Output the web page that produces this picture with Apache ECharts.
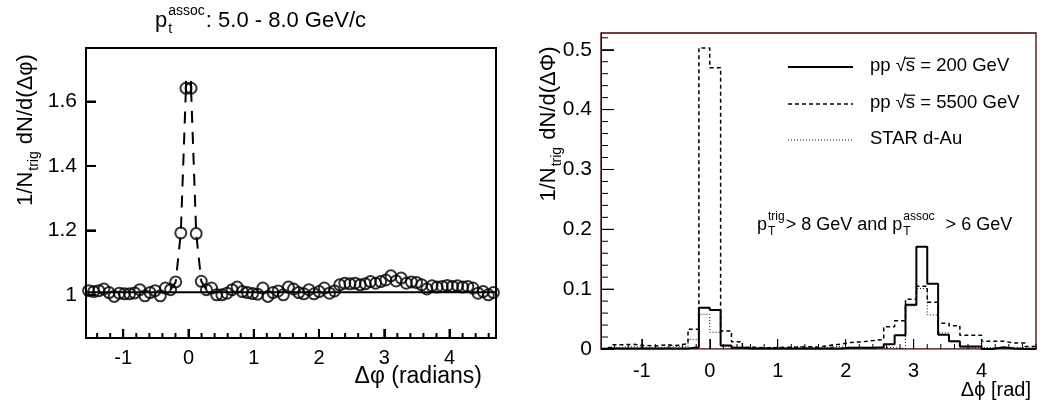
<!DOCTYPE html>
<html>
<head>
<meta charset="utf-8">
<script src="https://cdn.jsdelivr.net/npm/echarts@6/dist/echarts.min.js"></script>
<style>
html, body { margin: 0; padding: 0; background: #fff; }
#main { width: 1049px; height: 406px; }
</style>
</head>
<body>
<div id="main"></div>
<script>
// ==========================================
// 1. 数据
// ==========================================
// 左图: 80 个 Δφ bin 的中心
const leftX = [
  -1.531, -1.453, -1.374, -1.296, -1.217, -1.139, -1.060, -0.982, -0.903, -0.825,
  -0.746, -0.668, -0.589, -0.511, -0.432, -0.353, -0.275, -0.196, -0.118, -0.039,
   0.039,  0.118,  0.196,  0.275,  0.353,  0.432,  0.511,  0.589,  0.668,  0.746,
   0.825,  0.903,  0.982,  1.060,  1.139,  1.217,  1.296,  1.374,  1.453,  1.531,
   1.610,  1.689,  1.767,  1.846,  1.924,  2.003,  2.081,  2.160,  2.238,  2.317,
   2.395,  2.474,  2.553,  2.631,  2.710,  2.788,  2.867,  2.945,  3.024,  3.102,
   3.181,  3.259,  3.338,  3.416,  3.495,  3.574,  3.652,  3.731,  3.809,  3.888,
   3.966,  4.045,  4.123,  4.202,  4.280,  4.359,  4.437,  4.516,  4.595,  4.673
];
const leftY = [
  1.013, 1.010, 1.013, 1.018, 1.007, 0.995, 1.005, 1.003, 1.003, 1.006,
  1.016, 0.997, 1.007, 1.013, 0.997, 1.021, 1.016, 1.040, 1.192, 1.641,
  1.641, 1.190, 1.042, 1.016, 1.021, 1.000, 1.000, 1.005, 1.016, 1.024,
  1.010, 1.007, 1.004, 1.002, 1.021, 0.995, 1.007, 1.012, 1.000, 1.024,
  1.018, 1.007, 1.003, 1.016, 1.003, 1.010, 1.021, 1.005, 1.012, 1.031,
  1.036, 1.034, 1.036, 1.031, 1.034, 1.041, 1.036, 1.041, 1.046, 1.059,
  1.043, 1.052, 1.036, 1.040, 1.038, 1.031, 1.018, 1.028, 1.024, 1.026,
  1.029, 1.026, 1.028, 1.024, 1.026, 1.021, 1.005, 1.010, 1.000, 1.007
];
// 近端峰的虚线拟合
const fitX = [-0.275, -0.196, -0.118, -0.039, 0.039, 0.118, 0.196, 0.275];
const fitY = [1.016, 1.040, 1.192, 1.641, 1.641, 1.190, 1.042, 1.016];
// 本底水平线
const baseX = [-1.5708, 4.7124];
const baseY = [1.008, 1.008];
// 峰值点误差棒
const errX = [-0.039, 0.039];
const errLo = [1.622, 1.622];
const errHi = [1.664, 1.664];

// 右图: 40 个 bin 的边界
const binEdges = [
  -1.60, -1.44, -1.28, -1.12, -0.96, -0.80, -0.64, -0.48, -0.32, -0.16,
   0.00,  0.16,  0.32,  0.48,  0.64,  0.80,  0.96,  1.12,  1.28,  1.44,
   1.60,  1.76,  1.92,  2.08,  2.24,  2.40,  2.56,  2.72,  2.88,  3.04,
   3.20,  3.36,  3.52,  3.68,  3.84,  4.00,  4.16,  4.32,  4.48,  4.64, 4.80
];
const pp200 = [
  0.001, 0.001, 0.001, 0.001, 0.001, 0.001, 0.001, 0.001, 0.003, 0.069,
  0.065, 0.006, 0.002, 0.001, 0.001, 0.001, 0.001, 0.001, 0.001, 0.001,
  0.001, 0.001, 0.002, 0.002, 0.002, 0.003, 0.008, 0.023, 0.074, 0.171,
  0.109, 0.024, 0.013, 0.004, 0.004, 0.000, 0.003, 0.001, 0.000, 0.000
];
const pp5500 = [
  0.003, 0.007, 0.008, 0.006, 0.005, 0.007, 0.006, 0.009, 0.033, 0.503,
  0.470, 0.030, 0.012, 0.003, 0.002, 0.002, 0.003, 0.003, 0.004, 0.003,
  0.006, 0.008, 0.011, 0.012, 0.014, 0.016, 0.037, 0.047, 0.083, 0.105,
  0.078, 0.043, 0.039, 0.023, 0.023, 0.013, 0.013, 0.010, 0.010, 0.004
];
const starDAu = [
  0.002, 0.003, 0.004, 0.003, 0.002, 0.003, 0.004, 0.004, 0.016, 0.058,
  0.028, 0.004, 0.003, 0.002, 0.002, 0.003, 0.002, 0.004, 0.003, 0.002,
  0.003, 0.004, 0.003, 0.003, 0.002, 0.003, 0.002, 0.001, 0.072, 0.101,
  0.057, 0.027, 0.012, 0.002, 0.003, 0.002, 0.002, 0.003, 0.002, 0.002
];

const xTicks = [-1, 0, 1, 2, 3, 4];
const leftYTicks = [1, 1.2, 1.4, 1.6];
const rightYTicks = [0, 0.1, 0.2, 0.3, 0.4, 0.5];

// 坐标范围
const L_XMIN = -1.5708, L_XMAX = 4.7124, L_YMIN = 0.866, L_YMAX = 1.766;
const R_XMIN = -1.6, R_XMAX = 4.8, R_YMIN = 0, R_YMAX = 0.528;

// ==========================================
// 2. 文字辅助 (上下标)
// ==========================================
const FONT = '"Liberation Sans", Arial, sans-serif';
const meas = document.createElement('canvas').getContext('2d');
function tw(s, size) {
  meas.font = size + 'px ' + FONT;
  return meas.measureText(s).width;
}
function txt(s, x, y, size, align) {
  return {
    type: 'text', x: x, y: y,
    style: {
      text: s, font: size + 'px ' + FONT, fill: '#000',
      align: align || 'left', textAlign: align || 'left',
      verticalAlign: 'middle', textVerticalAlign: 'middle'
    }
  };
}
// parts: 字符串 或 {sup, sub}; shift 把整行平移
function formula(parts, size, shift) {
  const kids = [];
  const small = Math.round(size * 0.64);
  let x = shift || 0;
  parts.forEach(p => {
    if (typeof p === 'string') {
      kids.push(txt(p, x, 0, size));
      x += tw(p, size);
    } else {
      let w = 0;
      if (p.sup) { kids.push(txt(p.sup, x + 1, -size * 0.45, small)); w = Math.max(w, tw(p.sup, small)); }
      if (p.sub) { kids.push(txt(p.sub, x + 1, size * 0.38, small)); w = Math.max(w, tw(p.sub, small)); }
      x += w + 2;
    }
  });
  return { kids, width: x - (shift || 0) };
}
function flatText(parts, size, x, y) {
  const f = formula(parts, size);
  return { type: 'group', x: x, y: y, children: f.kids };
}
// 竖排标题, 以 cy 为中心
function vertText(parts, size, cx, cy) {
  const w = formula(parts, size).width;
  const f = formula(parts, size, -w / 2);
  return { type: 'group', x: cx, y: cy, rotation: Math.PI / 2, children: f.kids };
}
// √s 上面的横线
function sqrtBar(prefix, x, y, size) {
  const x1 = x + tw(prefix, size) - 1;
  const x2 = x1 + tw('s', size) + 1;
  const yy = y - size * 0.42;
  return { type: 'line', shape: { x1: x1, y1: yy, x2: x2, y2: yy }, style: { stroke: '#000', lineWidth: 1.2 } };
}

function minorList(from, to, step, majorEvery) {
  const out = [];
  const n = Math.round((to - from) / step);
  for (let k = 0; k <= n; k++) {
    const v = +(from + k * step).toFixed(4);
    if (Math.abs(v / (step * majorEvery) - Math.round(v / (step * majorEvery))) > 1e-6) out.push(v);
  }
  return out;
}

function histPoints(vals) {
  const pts = [[binEdges[0], 0]];
  binEdges.forEach((e, i) => pts.push([e, vals[Math.min(i, vals.length - 1)]]));
  pts.push([binEdges[binEdges.length - 1], 0]);
  return pts;
}

// ==========================================
// 3. ECharts
// ==========================================
const chart = echarts.init(document.getElementById('main'));

const axisText = (size) => ({ color: '#000', fontSize: size, fontFamily: FONT });
const majorTick = (vals, len, width) => ({
  show: true, inside: true, length: len, customValues: vals,
  lineStyle: { color: '#000', width: width }
});

chart.setOption({
  animation: false,
  grid: [
    { left: 86, top: 48, width: 410, height: 290, show: true, borderColor: '#000', borderWidth: 2, backgroundColor: 'transparent' },
    { left: 601, top: 33, width: 435, height: 316, show: true, borderColor: '#4a0000', borderWidth: 1.3, backgroundColor: 'transparent' }
  ],
  xAxis: [
    { gridIndex: 0, type: 'value', min: L_XMIN, max: L_XMAX,
      axisLine: { show: false, onZero: false }, splitLine: { show: false },
      axisTick: majorTick(xTicks, 9, 2),
      axisLabel: Object.assign({ customValues: xTicks, margin: 10 }, axisText(20)) },
    { gridIndex: 1, type: 'value', min: R_XMIN, max: R_XMAX,
      axisLine: { show: true, onZero: false, lineStyle: { color: '#e85a5a', width: 1 } },
      splitLine: { show: false },
      axisTick: majorTick(xTicks, 10, 1),
      axisLabel: Object.assign({ customValues: xTicks, margin: 12 }, axisText(20)) }
  ],
  yAxis: [
    { gridIndex: 0, type: 'value', min: L_YMIN, max: L_YMAX,
      axisLine: { show: false, onZero: false }, splitLine: { show: false },
      axisTick: majorTick(leftYTicks, 10, 2),
      axisLabel: Object.assign({ customValues: leftYTicks, margin: 9,
        formatter: v => (v === 1 ? '1' : v.toFixed(1)) }, axisText(21)) },
    { gridIndex: 1, type: 'value', min: R_YMIN, max: R_YMAX,
      axisLine: { show: true, onZero: false, lineStyle: { color: '#2a0505', width: 1 } },
      splitLine: { show: false },
      axisTick: majorTick(rightYTicks, 13, 1),
      axisLabel: Object.assign({ customValues: rightYTicks, margin: 9,
        formatter: v => (v === 0 ? '0' : v.toFixed(1)) }, axisText(21)) }
  ],
  series: [
    // 左图
    { type: 'line', xAxisIndex: 0, yAxisIndex: 0, symbol: 'none', silent: true,
      data: baseX.map((x, i) => [x, baseY[i]]), lineStyle: { color: '#000', width: 2 } },
    { type: 'line', xAxisIndex: 0, yAxisIndex: 0, symbol: 'none', silent: true,
      data: fitX.map((x, i) => [x, fitY[i]]), lineStyle: { color: '#000', width: 2, type: [12, 9] } },
    { type: 'custom', xAxisIndex: 0, yAxisIndex: 0, silent: true,
      data: errX.map((x, i) => [x, errLo[i], errHi[i]]),
      encode: { x: 0, y: [1, 2] },
      renderItem: (params, api) => {
        const a = api.coord([api.value(0), api.value(1)]);
        const b = api.coord([api.value(0), api.value(2)]);
        return { type: 'line', shape: { x1: a[0], y1: a[1], x2: b[0], y2: b[1] }, style: { stroke: '#000', lineWidth: 2 } };
      } },
    { type: 'scatter', xAxisIndex: 0, yAxisIndex: 0, symbol: 'circle', symbolSize: 11, silent: true,
      data: leftX.map((x, i) => [x, leftY[i]]),
      itemStyle: { color: 'rgba(0,0,0,0)', borderColor: '#000', borderWidth: 2 } },
    // 右图
    { type: 'line', xAxisIndex: 1, yAxisIndex: 1, symbol: 'none', step: 'end', silent: true,
      data: histPoints(starDAu), lineStyle: { color: '#000', width: 1, type: [1, 2] } },
    { type: 'line', xAxisIndex: 1, yAxisIndex: 1, symbol: 'none', step: 'end', silent: true,
      data: histPoints(pp5500), lineStyle: { color: '#000', width: 1.5, type: [4, 3] } },
    { type: 'line', xAxisIndex: 1, yAxisIndex: 1, symbol: 'none', step: 'end', silent: true,
      data: histPoints(pp200), lineStyle: { color: '#000', width: 2 } }
  ]
});

// ==========================================
// 4. 文字 + 次刻度线 (位置由坐标轴换算得到)
// ==========================================
function tickLines(gi, dir, vals, edge, len, width) {
  const out = [];
  vals.forEach(v => {
    const p = chart.convertToPixel({ gridIndex: gi }, dir === 'x' ? [v, edge] : [edge, v]);
    if (!p || isNaN(p[0]) || isNaN(p[1])) return;
    const shape = dir === 'x'
      ? { x1: p[0], y1: p[1], x2: p[0], y2: p[1] - len }
      : { x1: p[0], y1: p[1], x2: p[0] + len, y2: p[1] };
    out.push({ type: 'line', shape: shape, style: { stroke: '#000', lineWidth: width } });
  });
  return out;
}

const labels = [
  // 左图标题和轴标题
  flatText(['p', { sup: 'assoc', sub: 't' }, ': 5.0 - 8.0 GeV/c'], 22, 155, 21),
  vertText(['1/N', { sub: 'trig' }, ' dN/d(Δφ)'], 22, 26, 130),
  txt('Δφ (radians)', 482, 377, 23, 'right'),
  // 右图轴标题
  vertText(['1/N', { sub: 'trig' }, ' dN/d(ΔΦ)'], 22, 549, 124),
  txt('Δϕ [rad]', 1031, 390, 20, 'right'),
  // 图例
  { type: 'line', shape: { x1: 788, y1: 67, x2: 853, y2: 67 }, style: { stroke: '#000', lineWidth: 2 } },
  { type: 'line', shape: { x1: 788, y1: 104, x2: 853, y2: 104 }, style: { stroke: '#000', lineWidth: 1.5, lineDash: [4, 3] } },
  { type: 'line', shape: { x1: 788, y1: 140, x2: 853, y2: 140 }, style: { stroke: '#000', lineWidth: 1, lineDash: [1, 2] } },
  txt('pp √s = 200 GeV', 870, 66, 18.5),
  txt('pp √s = 5500 GeV', 870, 103, 18.5),
  sqrtBar('pp √', 870, 66, 18.5),
  sqrtBar('pp √', 870, 103, 18.5),
  txt('STAR d-Au', 870, 139, 18.5),
  // 注释
  flatText(['p', { sup: 'trig', sub: 'T' }, '> 8 GeV and p', { sup: 'assoc', sub: 'T' }, '  > 6 GeV'], 18, 757, 225)
];

const ticks = [].concat(
  tickLines(0, 'x', xTicks, L_YMIN, 9, 2),
  tickLines(0, 'x', minorList(-1.4, 4.6, 0.2, 5), L_YMIN, 5, 2),
  tickLines(0, 'y', leftYTicks, L_XMIN, 10, 2),
  tickLines(1, 'x', xTicks, R_YMIN, 10, 1),
  tickLines(1, 'x', minorList(-1.4, 4.8, 0.2, 5), R_YMIN, 5, 1),
  tickLines(1, 'y', rightYTicks, R_XMIN, 13, 1),
  tickLines(1, 'y', minorList(0.02, 0.52, 0.02, 5), R_XMIN, 7, 1)
);

chart.setOption({ graphic: labels.concat(ticks) });
</script>
</body>
</html>
